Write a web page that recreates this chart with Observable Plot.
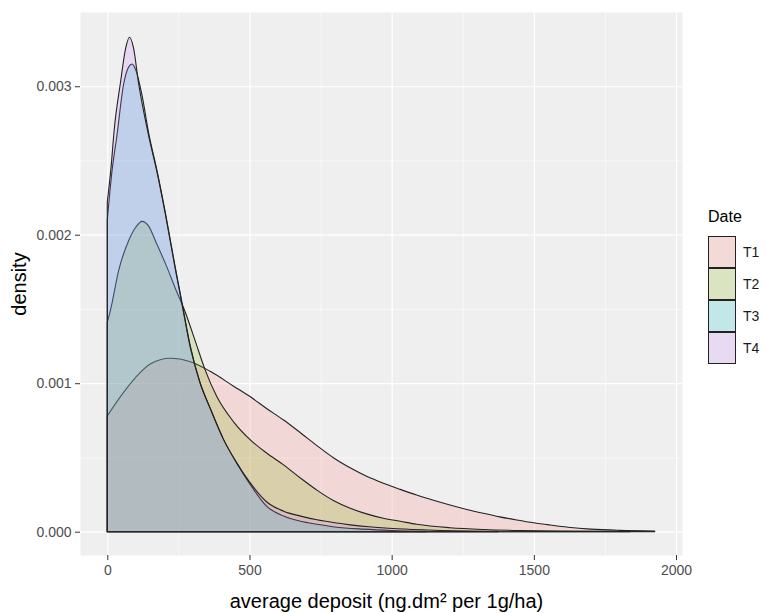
<!DOCTYPE html>
<html>
<head>
<meta charset="utf-8">
<script src="https://cdn.jsdelivr.net/npm/d3@7"></script>
<script src="https://cdn.jsdelivr.net/npm/@observablehq/plot@0.6"></script>
<style>
  html, body { margin: 0; padding: 0; background: #fff; }
  #wrap { position: relative; width: 766px; height: 613px; font-family: "Liberation Sans", Arial, sans-serif; }
  #legend { position: absolute; left: 708px; top: 207px; }
  #legend .title { font-size: 16px; color: #000; height: 29px; line-height: 20px; }
  #legend .row { display: flex; align-items: center; height: 32px; }
  #legend .key { width: 28px; height: 32px; box-sizing: border-box; background: #F2F2F2; position: relative; }
  #legend .key div { position: absolute; inset: 0; border: 1.3px solid #222; }
  #legend .lab { font-size: 14px; margin-left: 7px; color: #1a1a1a; }
</style>
</head>
<body>
<div id="wrap"><div id="legend"></div></div>
<script>
// Categories and colours
const dates = ["T1", "T2", "T3", "T4"];
const fills = ["#F8766D", "#7CAE00", "#00BFC4", "#C77CFF"];

// Density curves
const t1X = [0, 50, 100, 151, 221, 292, 362, 444, 502, 560, 620, 680, 737, 795, 854, 912, 971, 1030, 1088, 1147, 1205, 1264, 1322, 1380, 1440, 1500, 1557, 1620, 1700, 1800, 1925];
const t1Y = [0.00078, 0.00092, 0.00104, 0.00113, 0.001168, 0.001145, 0.00108, 0.00098, 0.00091, 0.00083, 0.000752, 0.000665, 0.00058, 0.000498, 0.00043, 0.000373, 0.000326, 0.000285, 0.000247, 0.000212, 0.00018, 0.00015, 0.000124, 0.0001, 0.000079, 0.00006, 0.000045, 0.00003, 0.000017, 0.000009, 0.000005];

const t2X = [0, 11, 40, 75, 100, 122, 145, 169, 210, 239, 274, 310, 344, 385, 444, 502, 560, 620, 680, 737, 795, 854, 912, 971, 1030, 1088, 1205, 1322, 1450, 1600, 1838];
const t2Y = [0.00141, 0.00149, 0.00176, 0.00196, 0.00205, 0.00209, 0.00206, 0.00196, 0.00178, 0.00164, 0.00148, 0.00128, 0.00109, 0.00091, 0.00074, 0.00062, 0.00053, 0.00045, 0.00036, 0.00028, 0.00021, 0.000158, 0.00012, 0.00009, 0.00007, 0.00005, 0.000027, 0.000015, 0.000008, 0.000004, 0.000002];

const t3X = [0, 16, 34, 57, 75, 87, 100, 122, 145, 175, 204, 239, 262, 292, 325, 362, 409, 456, 502, 561, 620, 680, 737, 800, 900, 1000, 1124];
const t3Y = [0.00210, 0.00242, 0.00267, 0.00301, 0.00313, 0.00315, 0.00311, 0.00294, 0.00269, 0.00243, 0.00215, 0.00178, 0.00155, 0.00125, 0.00101, 0.00083, 0.00062, 0.00046, 0.00032, 0.00017, 0.000105, 0.00007, 0.00005, 0.000032, 0.000017, 0.000008, 0.000003];

const t4X = [0, 13, 25, 46, 65, 78, 92, 110, 145, 175, 204, 239, 262, 292, 325, 362, 409, 456, 502, 561, 620, 680, 737, 800, 854, 920, 1018, 1150, 1374];
const t4Y = [0.00222, 0.00245, 0.00272, 0.00302, 0.00326, 0.00333, 0.00326, 0.00302, 0.00267, 0.00242, 0.00214, 0.00177, 0.00154, 0.00124, 0.00101, 0.00083, 0.00062, 0.00046, 0.00033, 0.00020, 0.000138, 0.000105, 0.00008, 0.00006, 0.000046, 0.000033, 0.00002, 0.00001, 0.000003];

// Axis ticks
const xTicks = [0, 500, 1000, 1500, 2000];
const yTicks = [0, 0.001, 0.002, 0.003];
const xMinor = [250, 750, 1250, 1750];
const yMinor = [0.0005, 0.0015, 0.0025];

const xTitle = "average deposit (ng.dm² per 1g/ha)";
const yTitle = "density";
const legendTitle = "Date";

const seriesX = [t1X, t2X, t3X, t4X];
const seriesY = [t1Y, t2Y, t3Y, t4Y];
const rows = [];
dates.forEach((d, i) => seriesX[i].forEach((x, j) => rows.push({date: d, x, y: seriesY[i][j]})));

const chart = Plot.plot({
  width: 766,
  height: 613,
  marginLeft: 80,
  marginRight: 84,
  marginTop: 12,
  marginBottom: 58,
  style: {fontFamily: "'Liberation Sans', Arial, sans-serif", background: "transparent"},
  x: {domain: [-96, 2021]},
  y: {domain: [-0.000157, 0.0035]},
  color: {domain: dates, range: fills},
  marks: [
    Plot.frame({fill: "#EFEFEF", stroke: null}),
    Plot.gridX(xMinor, {stroke: "white", strokeOpacity: 1, strokeWidth: 0.6}),
    Plot.gridY(yMinor, {stroke: "white", strokeOpacity: 1, strokeWidth: 0.6}),
    Plot.gridX(xTicks, {stroke: "white", strokeOpacity: 1, strokeWidth: 1.2}),
    Plot.gridY(yTicks, {stroke: "white", strokeOpacity: 1, strokeWidth: 1.2}),
    Plot.areaY(rows, {x: "x", y1: 0, y2: "y", fill: "date", z: "date", fillOpacity: 0.2, stroke: "#222", strokeWidth: 1.1, curve: "monotone-x"}),
    Plot.axisX(xTicks, {tickSize: 5, tickPadding: 5, fontSize: 14, fill: "#4D4D4D", stroke: "#333", label: null, tickFormat: d3.format("d")}),
    Plot.axisY(yTicks, {tickSize: 5, tickPadding: 4, fontSize: 14, fill: "#4D4D4D", stroke: "#333", label: null, tickFormat: d3.format(".3f")}),
    Plot.text([xTitle], {frameAnchor: "bottom", dx: 5, dy: 46, fontSize: 20, fill: "#000", lineAnchor: "middle", textAnchor: "middle"}),
    Plot.text([yTitle], {frameAnchor: "left", dx: -61, rotate: -90, fontSize: 20, fill: "#000", lineAnchor: "middle", textAnchor: "middle"})
  ]
});
const wrap = document.getElementById("wrap");
wrap.insertBefore(chart, wrap.firstChild);

// Legend
const legend = document.getElementById("legend");
const t = document.createElement("div");
t.className = "title";
t.textContent = legendTitle;
legend.appendChild(t);
dates.forEach((d, i) => {
  const row = document.createElement("div");
  row.className = "row";
  const key = document.createElement("div");
  key.className = "key";
  const inner = document.createElement("div");
  const c = d3.color(fills[i]); c.opacity = 0.2;
  inner.style.background = c.formatRgb();
  key.appendChild(inner);
  const lab = document.createElement("span");
  lab.className = "lab";
  lab.textContent = d;
  row.appendChild(key);
  row.appendChild(lab);
  legend.appendChild(row);
});
</script>
</body>
</html>
